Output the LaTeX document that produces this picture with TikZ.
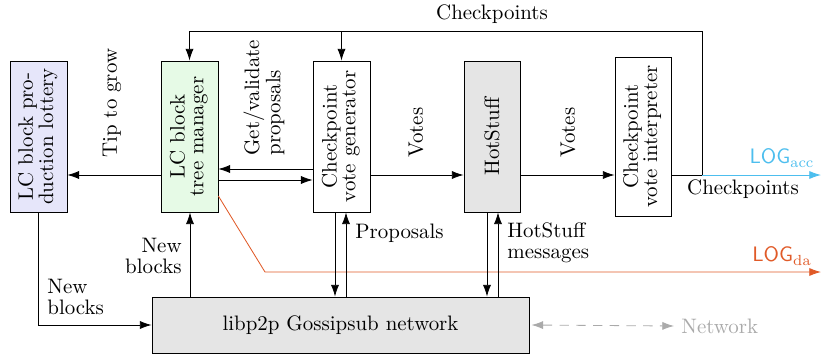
\documentclass[tikz,border=0pt]{standalone}
\usetikzlibrary{arrows.meta,calc}
\definecolor{lav}{RGB}{230,230,250}
\definecolor{lgreen}{RGB}{230,250,230}
\definecolor{lgray}{RGB}{229,229,229}
\definecolor{accblue}{RGB}{77,190,238}
\definecolor{daorange}{RGB}{224,90,40}
\definecolor{netgray}{RGB}{170,170,170}
\newcommand{\boxlines}[1]{\rotatebox{90}{\renewcommand{\arraystretch}{0.88}\begin{tabular}{@{}c@{}}#1\end{tabular}}}
\begin{document}
\begin{tikzpicture}[x=0.478pt,y=-0.478pt,
  >={Latex[length=5.6pt,width=3.9pt]},
  every node/.style={font=\linespread{0.85}\selectfont},
  box/.style={draw, inner sep=1pt, minimum width=27.2pt, minimum height=72.2pt},
  rot/.style={rotate=90, anchor=west, align=left}]
\useasboundingbox (0,0) rectangle (822,354);
% boxes
\node[box, fill=lav] (lot) at (38.5,136.5) {\boxlines{LC block pro-\\duction lottery}};
\node[box, fill=lgreen] (tree) at (189.5,136.5) {\boxlines{LC block\\tree manager}};
\node[box] (gen) at (341.5,136.5) {\boxlines{Checkpoint\\vote generator}};
\node[box, fill=lgray, minimum width=26.8pt] (hs) at (492,136.5) {\rotatebox{90}{HotStuff}};
\node[box, minimum width=26.8pt, minimum height=76pt] (interp) at (643,136.5) {\boxlines{Checkpoint\\vote interpreter}};
\node[box, fill=lgray, minimum width=180.2pt, minimum height=26.8pt] (net) at (340.5,325)
  {libp2p Gossipsub network};
% helper coordinates
\coordinate (r) at (0,175);
\coordinate (ra) at (0,169);
\coordinate (rb) at (0,180);
\coordinate (cpc) at (702,175);
\coordinate (cpt) at (702,31);
\coordinate (daS) at (0,196);
\coordinate (daK) at (265,272);
\coordinate (daE) at (821,272);
\coordinate (accE) at (821,175);
\coordinate (pd) at (335,0);
\coordinate (pu) at (346,0);
\coordinate (hd) at (487,0);
\coordinate (hu) at (498,0);
\coordinate (nb) at (190,0);
% connectors
\draw[->] (tree.west |- r) -- (lot.east |- r);
\draw[->] (gen.west |- ra) -- (tree.east |- ra);
\draw[->] (tree.east |- rb) -- (gen.west |- rb);
\draw[->] (gen.east |- r) -- (hs.west |- r);
\draw[->] (hs.east |- r) -- (interp.west |- r);
\draw[->] (interp.east |- r) -- (cpc) -- (cpt) -| (tree.north);
\draw[->] (gen.north |- cpt) -- (gen.north);
\draw[->, accblue] (cpc) -- (accE);
\draw[->, daorange] (tree.east |- daS) -- (daK) -- (daE);
\draw[->] (lot.south) |- (net.west);
\draw[->] (net.north -| nb) -- (tree.south -| nb);
\draw[->] (gen.south -| pd) -- (net.north -| pd);
\draw[->] (net.north -| pu) -- (gen.south -| pu);
\draw[->] (hs.south -| hd) -- (net.north -| hd);
\draw[->] (net.north -| hu) -- (hs.south -| hu);
% labels
\node[rot] (ltip) at (112,165) {Tip to grow};
\node[rot] (lget) at (264,163) {Get/validate\\proposals};
\node[rot] (lv1) at (416,165) {Votes};
\node[rot] (lv2) at (568,165) {Votes};
\node (lcp1) at (492,14) {Checkpoints};
\node (lcp2) at (743,189) {Checkpoints};
\node[text=accblue] (lacc) at (782,158) {\textsf{LOG}$_\mathrm{acc}$};
\node[text=daorange] (lda) at (782,256) {\textsf{LOG}$_\mathrm{da}$};
\node[anchor=west, align=left] (lnb1) at (40,297) {New\\blocks};
\node[anchor=east, align=right] (lnb2) at (189,256) {New\\blocks};
\node[anchor=west] (lprop) at (348,233) {Proposals};
\node[anchor=west, align=left] (lhs) at (500,243) {HotStuff\\messages};
\node[anchor=west, text=netgray] (lnet) at (674,326) {Network};
\draw[<->, netgray, dash pattern=on 4.5pt off 3.5pt] ([xshift=1pt]net.east) -- (lnet.west);
\end{tikzpicture}
\end{document}
